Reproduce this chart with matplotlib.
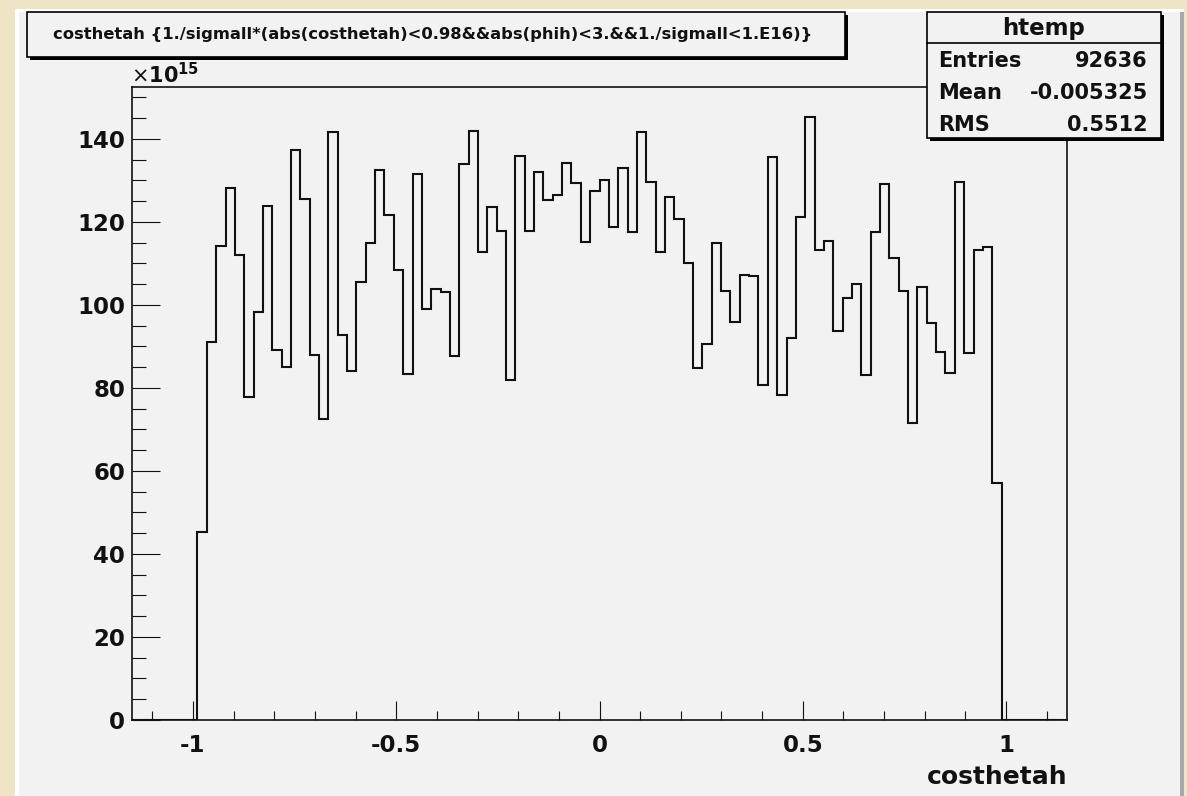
import matplotlib
matplotlib.use('Agg')
from matplotlib import pyplot as plt
from matplotlib.patches import Rectangle
from matplotlib.ticker import MultipleLocator
import numpy as np

# htemp: 100 bins over [-1.15, 1.15], bin contents in units of 1e15
bin_low = -1.15
bin_high = 1.15
n_bins = 100
counts = [0, 0, 0, 0, 0, 0, 0,
          45.3, 91.1, 114.3, 128.2, 112.1, 77.9, 98.4, 123.9, 89.1, 85.1,
          137.4, 125.4, 88.0, 72.4, 141.6, 92.8, 84.2, 105.5, 115.0, 132.5,
          121.6, 108.5, 83.4, 131.5, 98.9, 103.9, 103.1, 87.6, 133.9, 141.8,
          112.8, 123.5, 117.8, 82.0, 135.9, 117.9, 132.1, 125.2, 126.6, 134.2,
          129.3, 115.2, 127.5, 130.0, 118.7, 133.0, 117.6, 141.6, 129.7, 112.8,
          126.1, 120.6, 110.1, 84.9, 90.7, 114.8, 103.4, 95.9, 107.3, 106.9,
          80.6, 135.7, 78.4, 92.0, 121.3, 145.2, 113.3, 115.4, 93.8, 101.6,
          105.1, 83.0, 117.5, 129.2, 111.2, 103.3, 71.5, 104.2, 95.6, 88.7,
          83.7, 129.7, 88.5, 113.3, 113.9, 57.2,
          0, 0, 0, 0, 0, 0, 0]

title = 'costhetah {1./sigmall*(abs(costhetah)<0.98&&abs(phih)<3.&&1./sigmall<1.E16)}'
x_label = 'costhetah'
stats_name = 'htemp'
stats_labels = ['Entries', 'Mean', 'RMS']
stats_values = ['92636', '-0.005325', '0.5512']

W, H = 1187, 796
BG = '#f0e4c6'
PAD = '#f2f2f2'
INK = '#111111'


def box(x0, y0, x1, y1):
    """pixel box (top-left origin) -> figure fraction rect"""
    return (x0 / W, 1 - y1 / H, (x1 - x0) / W, (y1 - y0) / H)


def shaded_box(fig, x0, y0, x1, y1, z=5):
    l, b, w, h = box(x0 + 3, y0 + 3, x1 + 3, y1 + 3)
    fig.patches.append(Rectangle((l, b), w, h, transform=fig.transFigure,
                                 facecolor='black', edgecolor='none', zorder=z))
    l, b, w, h = box(x0, y0, x1, y1)
    fig.patches.append(Rectangle((l, b), w, h, transform=fig.transFigure,
                                 facecolor=PAD, edgecolor='black', lw=1.2, zorder=z + 1))


fig = plt.figure(figsize=(W / 100, H / 100), dpi=100, facecolor=BG)

# canvas with bevelled border
for (x0, y0, x1, y1, c) in [(15, 9, 1184, 800, 'white'),
                             (19, 12, 1184, 800, '#a8a8a8'),
                             (19, 12, 1180, 800, PAD)]:
    l, b, w, h = box(x0, y0, x1, y1)
    fig.patches.append(Rectangle((l, b), w, h, transform=fig.transFigure,
                                 facecolor=c, edgecolor='none', zorder=0))

l, b, w, h = box(132, 87, 1067, 720)
ax = fig.add_axes([l, b, w, h], zorder=2)
ax.set_facecolor(PAD)

edges = np.linspace(bin_low, bin_high, n_bins + 1)
ax.stairs(counts, edges, color=INK, lw=1.5, baseline=None)

ax.set_xlim(bin_low, bin_high)
ax.set_ylim(0, 152.5)

ax.xaxis.set_major_locator(MultipleLocator(0.5))
ax.xaxis.set_minor_locator(MultipleLocator(0.1))
ax.yaxis.set_major_locator(MultipleLocator(20))
ax.yaxis.set_minor_locator(MultipleLocator(5))
ax.xaxis.set_major_formatter(plt.FuncFormatter(lambda v, p: '{:g}'.format(round(v, 3))))

ax.tick_params(axis='both', which='both', direction='in', width=0.8, colors=INK,
               top=False, right=False, labelsize=16.5)
ax.tick_params(axis='x', which='major', length=13.5, pad=10)
ax.tick_params(axis='x', which='minor', length=6.5)
ax.tick_params(axis='y', which='major', length=20, pad=5)
ax.tick_params(axis='y', which='minor', length=10)
for lab in ax.get_xticklabels() + ax.get_yticklabels():
    lab.set_fontweight('bold')
for sp in ax.spines.values():
    sp.set_linewidth(1.2)
    sp.set_color(INK)

fig.text(1067 / W, 1 - 784 / H, x_label, ha='right', va='baseline',
         fontsize=18, fontweight='bold', color=INK)
fig.text(131 / W, 1 - 83 / H, r'$\times\mathbf{10^{15}}$', ha='left', va='baseline',
         fontsize=15, fontweight='bold', color=INK, zorder=3)

# title box
shaded_box(fig, 27, 12, 845, 57)
fig.text(433 / W, 1 - 35 / H, title, ha='center', va='center',
         fontsize=11.8, fontweight='bold', color=INK, zorder=8)

# stats box
shaded_box(fig, 927, 12, 1161, 138)
l, b, w, h = box(927, 43, 1161, 43)
fig.lines.append(plt.Line2D([l, l + w], [b, b], transform=fig.transFigure,
                            color='black', lw=1.2, zorder=8))
fig.text(1044 / W, 1 - 28 / H, stats_name, ha='center', va='center',
         fontsize=16.5, fontweight='bold', color=INK, zorder=8)
for i, (name, val) in enumerate(zip(stats_labels, stats_values)):
    yc = 1 - (61 + 32 * i) / H
    fig.text(938 / W, yc, name, ha='left', va='center', fontsize=15,
             fontweight='bold', color=INK, zorder=8)
    fig.text(1148 / W, yc, val, ha='right', va='center', fontsize=15,
             fontweight='bold', color=INK, zorder=8)

fig.savefig('out.png', dpi=100, facecolor=BG)
